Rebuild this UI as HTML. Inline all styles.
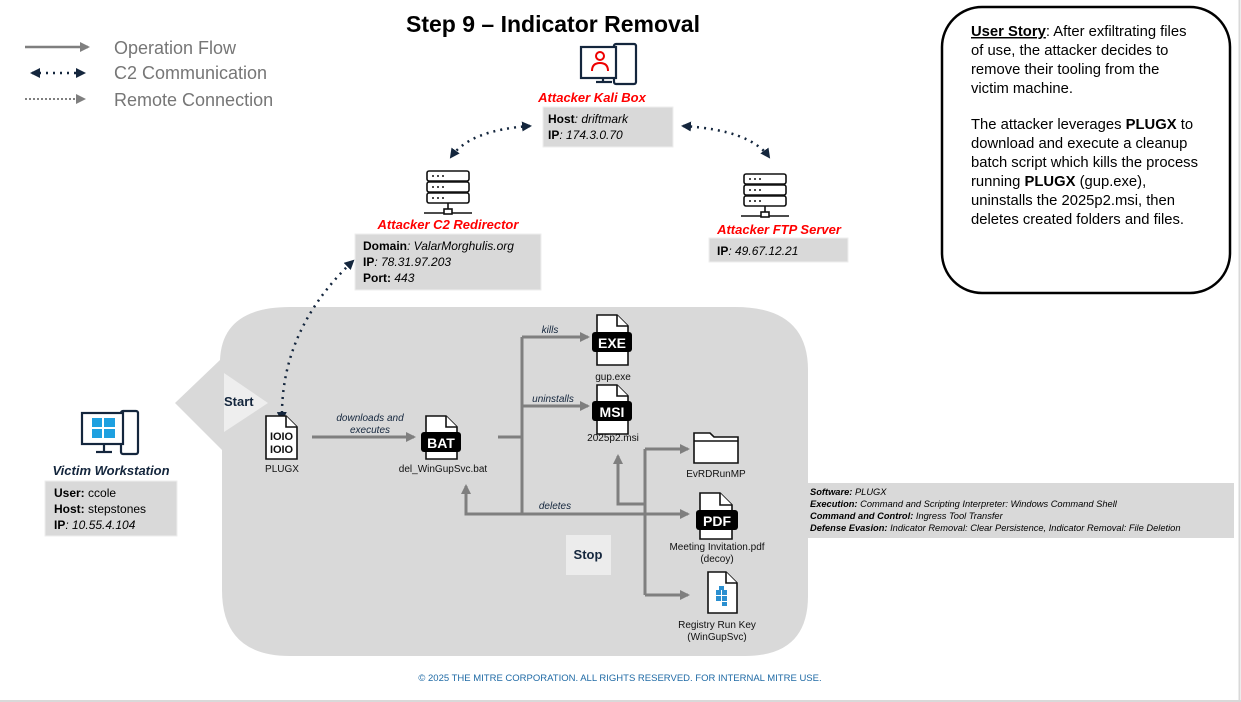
<!DOCTYPE html>
<html><head><meta charset="utf-8"><style>
html,body{margin:0;padding:0;background:#fff;}
svg{display:block;font-family:"Liberation Sans",Arial,sans-serif;}
</style></head><body>
<svg width="1241" height="702" viewBox="0 0 1241 702" xmlns="http://www.w3.org/2000/svg">
<defs>
<marker id="ga" markerWidth="10" markerHeight="10" refX="8" refY="5" orient="auto" markerUnits="userSpaceOnUse"><path d="M0,0 L10,5 L0,10 z" fill="#7f7f7f"/></marker>
<marker id="da" markerWidth="10" markerHeight="10" refX="8" refY="5" orient="auto" markerUnits="userSpaceOnUse"><path d="M0,0 L10,5 L0,10 z" fill="#14263d"/></marker>
<marker id="ds" markerWidth="10" markerHeight="10" refX="2" refY="5" orient="auto" markerUnits="userSpaceOnUse"><path d="M10,0 L0,5 L10,10 z" fill="#14263d"/></marker>
</defs>
<rect x="0" y="0" width="1241" height="702" fill="#fff"/>
<line x1="1239.5" y1="0" x2="1239.5" y2="702" stroke="#d9d9d9" stroke-width="2"/>
<line x1="0" y1="701" x2="1241" y2="701" stroke="#d9d9d9" stroke-width="2"/>

<text x="553" y="32" text-anchor="middle" font-size="23" font-weight="bold">Step 9 – Indicator Removal</text>

<!-- legend -->
<line x1="25" y1="47" x2="88" y2="47" stroke="#7f7f7f" stroke-width="2.5" marker-end="url(#ga)"/>
<line x1="32" y1="73" x2="84" y2="73" stroke="#14263d" stroke-width="2.5" stroke-dasharray="2,5" marker-start="url(#ds)" marker-end="url(#da)"/>
<line x1="25" y1="99" x2="84" y2="99" stroke="#7f7f7f" stroke-width="2" stroke-dasharray="2,2" marker-end="url(#ga)"/>
<g font-size="18" fill="#767676"><text x="114" y="54">Operation Flow</text><text x="114" y="79">C2 Communication</text><text x="114" y="106">Remote Connection</text></g>

<!-- big gray area -->
<path d="M175,403 L220,360 Q222,307 290,307 L735,307 Q808,307 808,370 L808,596 Q808,656 745,656 L290,656 Q222,656 222,590 L222,450 Z" fill="#d9d9d9"/>
<path d="M224,373 L268,403 L224,432 Z" fill="#eeeeee"/>
<text x="224" y="406" font-size="13" font-weight="bold" fill="#14263d">Start</text>

<!-- Kali icon -->
<g fill="none" stroke="#14263d" stroke-width="2.2">
<rect x="614" y="44" width="22" height="40" rx="2"/>
<line x1="596" y1="82" x2="612" y2="82"/><line x1="603" y1="78" x2="603" y2="82"/>
</g>
<rect x="581" y="47" width="35" height="31" fill="#fff" stroke="#14263d" stroke-width="2.2"/>
<circle cx="600" cy="56" r="4" fill="none" stroke="#e00" stroke-width="2"/>
<path d="M592,71 Q592,63 600,63 Q608,63 608,71" fill="none" stroke="#e00" stroke-width="2"/>
<text x="592" y="102" text-anchor="middle" font-size="13" font-weight="bold" font-style="italic" fill="#f00">Attacker Kali Box</text>
<rect x="543" y="107" width="130" height="40" fill="#d9d9d9" stroke="#eee"/>
<text x="548" y="123" font-size="12"><tspan font-weight="bold">Host</tspan><tspan font-style="italic">: driftmark</tspan></text>
<text x="548" y="139" font-size="12"><tspan font-weight="bold">IP</tspan><tspan font-style="italic">: 174.3.0.70</tspan></text>

<!-- servers -->
<g fill="#fff" stroke="#111" stroke-width="1.6">
<rect x="427" y="171" width="42" height="10" rx="2"/><rect x="427" y="182" width="42" height="10" rx="2"/><rect x="427" y="193" width="42" height="10" rx="2"/>
<line x1="448" y1="203" x2="448" y2="210"/><line x1="424" y1="213" x2="472" y2="213"/><rect x="444" y="209" width="8" height="5"/>
</g>
<g fill="#111"><circle cx="433" cy="176" r="1"/><circle cx="438" cy="176" r="1"/><circle cx="443" cy="176" r="1"/><circle cx="433" cy="187" r="1"/><circle cx="438" cy="187" r="1"/><circle cx="443" cy="187" r="1"/><circle cx="433" cy="198" r="1"/><circle cx="438" cy="198" r="1"/><circle cx="443" cy="198" r="1"/></g>
<g transform="translate(317,3)">
<g fill="#fff" stroke="#111" stroke-width="1.6">
<rect x="427" y="171" width="42" height="10" rx="2"/><rect x="427" y="182" width="42" height="10" rx="2"/><rect x="427" y="193" width="42" height="10" rx="2"/>
<line x1="448" y1="203" x2="448" y2="210"/><line x1="424" y1="213" x2="472" y2="213"/><rect x="444" y="209" width="8" height="5"/>
</g>
<g fill="#111"><circle cx="433" cy="176" r="1"/><circle cx="438" cy="176" r="1"/><circle cx="443" cy="176" r="1"/><circle cx="433" cy="187" r="1"/><circle cx="438" cy="187" r="1"/><circle cx="443" cy="187" r="1"/><circle cx="433" cy="198" r="1"/><circle cx="438" cy="198" r="1"/><circle cx="443" cy="198" r="1"/></g>
</g>
<text x="448" y="229" text-anchor="middle" font-size="13" font-weight="bold" font-style="italic" fill="#f00">Attacker C2 Redirector</text>
<rect x="355" y="234" width="186" height="56" fill="#d9d9d9" stroke="#eee"/>
<text x="363" y="250" font-size="12"><tspan font-weight="bold">Domain</tspan><tspan font-style="italic">: ValarMorghulis.org</tspan></text>
<text x="363" y="266" font-size="12"><tspan font-weight="bold">IP</tspan><tspan font-style="italic">: 78.31.97.203</tspan></text>
<text x="363" y="282" font-size="12"><tspan font-weight="bold">Port: </tspan><tspan font-style="italic">443</tspan></text>
<text x="779" y="234" text-anchor="middle" font-size="13" font-weight="bold" font-style="italic" fill="#f00">Attacker FTP Server</text>
<rect x="709" y="238" width="139" height="24" fill="#d9d9d9" stroke="#eee"/>
<text x="717" y="255" font-size="12"><tspan font-weight="bold">IP</tspan><tspan font-style="italic">: 49.67.12.21</tspan></text>

<!-- C2 dotted -->
<g fill="none" stroke="#14263d" stroke-width="2.5" stroke-dasharray="2,5">
<path d="M530,126 Q470,130 451,157" marker-start="url(#ds)" marker-end="url(#da)"/>
<path d="M683,126 Q750,130 769,157" marker-start="url(#ds)" marker-end="url(#da)"/>
<path d="M282,420 Q280,330 353,261" marker-start="url(#ds)" marker-end="url(#da)"/>
</g>

<!-- User story -->
<rect x="942" y="7" width="288" height="286" rx="40" fill="#fff" stroke="#000" stroke-width="2.5"/>
<g font-size="14.8" fill="#000">
<text x="971" y="36"><tspan font-weight="bold" text-decoration="underline">User Story</tspan>: After exfiltrating files</text>
<text x="971" y="55">of use, the attacker decides to</text>
<text x="971" y="74">remove their tooling from the</text>
<text x="971" y="93">victim machine.</text>
<text x="971" y="129">The attacker leverages <tspan font-weight="bold">PLUGX</tspan> to</text>
<text x="971" y="148">download and execute a cleanup</text>
<text x="971" y="167">batch script which kills the process</text>
<text x="971" y="186">running <tspan font-weight="bold">PLUGX</tspan> (gup.exe),</text>
<text x="971" y="205">uninstalls the 2025p2.msi, then</text>
<text x="971" y="224">deletes created folders and files.</text>
</g>

<!-- Victim -->
<g fill="none" stroke="#14263d" stroke-width="2.2">
<rect x="121" y="411" width="17" height="43" rx="2"/>
<line x1="96" y1="452" x2="112" y2="452"/><line x1="104" y1="444" x2="104" y2="452"/>
</g>
<rect x="82" y="413" width="41" height="31" fill="#fff" stroke="#14263d" stroke-width="2.2"/>
<g fill="#1ea0e0"><rect x="92" y="418" width="10" height="9"/><rect x="104" y="418" width="11" height="9"/><rect x="92" y="429" width="10" height="9"/><rect x="104" y="429" width="11" height="9"/></g>
<text x="111" y="475" text-anchor="middle" font-size="13" font-weight="bold" font-style="italic" fill="#14263d">Victim Workstation</text>
<rect x="45" y="481" width="132" height="55" fill="#d9d9d9" stroke="#eee"/>
<text x="54" y="497" font-size="12"><tspan font-weight="bold">User: </tspan>ccole</text>
<text x="54" y="513" font-size="12"><tspan font-weight="bold">Host: </tspan>stepstones</text>
<text x="54" y="529" font-size="12"><tspan font-weight="bold">IP</tspan><tspan font-style="italic">: 10.55.4.104</tspan></text>

<!-- flow lines -->
<g fill="none" stroke="#7f7f7f" stroke-width="3">
<line x1="312" y1="437" x2="414" y2="437" marker-end="url(#ga)"/>
<polyline points="498,437 522,437"/>
<line x1="522" y1="337" x2="522" y2="514"/>
<line x1="522" y1="337" x2="588" y2="337" marker-end="url(#ga)"/>
<line x1="522" y1="406" x2="588" y2="406" marker-end="url(#ga)"/>
<polyline points="645,514 466,514 466,486" marker-end="url(#ga)"/>
<line x1="522" y1="514" x2="688" y2="514" marker-end="url(#ga)"/>
<line x1="645" y1="449" x2="645" y2="595"/>
<line x1="645" y1="449" x2="688" y2="449" marker-end="url(#ga)"/>
<line x1="645" y1="595" x2="688" y2="595" marker-end="url(#ga)"/>
<polyline points="645,504 618,504 618,456" marker-end="url(#ga)"/>
</g>
<g font-size="10" font-style="italic" fill="#14263d" text-anchor="middle">
<text x="370" y="421">downloads and</text><text x="370" y="433">executes</text>
<text x="550" y="333">kills</text><text x="553" y="402">uninstalls</text><text x="555" y="509">deletes</text>
</g>

<!-- files -->
<g fill="#fff" stroke="#111" stroke-width="1.6">
<path d="M266,416 L286,416 L297,427 L297,459 L266,459 Z"/><path d="M286,416 L286,427 L297,427"/>
<path d="M426,416 L446,416 L457,427 L457,459 L426,459 Z"/><path d="M446,416 L446,427 L457,427"/>
<path d="M597,315 L617,315 L628,326 L628,365 L597,365 Z"/><path d="M617,315 L617,326 L628,326"/>
<path d="M597,385 L617,385 L628,396 L628,434 L597,434 Z"/><path d="M617,385 L617,396 L628,396"/>
<path d="M700,493 L720,493 L732,505 L732,539 L700,539 Z"/><path d="M720,493 L720,505 L732,505"/>
<path d="M708,572 L726,572 L737,583 L737,613 L708,613 Z"/><path d="M726,572 L726,583 L737,583"/>
<path d="M694,433 L710,433 L714,437 L738,437 L738,463 L694,463 Z"/><line x1="694" y1="441" x2="738" y2="441"/>
</g>
<g font-weight="bold" font-size="11" fill="#111"><text x="270" y="440" textLength="23">IOIO</text><text x="270" y="453" textLength="23">IOIO</text></g>
<g fill="#000"><rect x="421" y="432" width="40" height="20" rx="3"/><rect x="592" y="332" width="40" height="20" rx="3"/><rect x="592" y="401" width="40" height="20" rx="3"/><rect x="696" y="510" width="42" height="20" rx="3"/></g>
<g fill="#fff" font-weight="bold" font-size="14" text-anchor="middle"><text x="441" y="448">BAT</text><text x="612" y="348">EXE</text><text x="612" y="417">MSI</text><text x="717" y="526">PDF</text></g>
<g fill="#2a8fd0"><rect x="716" y="590" width="5" height="5"/><rect x="722" y="590" width="5" height="5"/><rect x="716" y="596" width="5" height="5"/><rect x="722" y="596" width="5" height="5"/><rect x="719" y="586" width="5" height="4"/><rect x="722" y="602" width="5" height="4"/></g>
<g font-size="10" fill="#111" text-anchor="middle">
<text x="282" y="472">PLUGX</text><text x="443" y="472">del_WinGupSvc.bat</text>
<text x="613" y="380">gup.exe</text><text x="613" y="441">2025p2.msi</text><text x="716" y="477">EvRDRunMP</text>
<text x="717" y="550">Meeting Invitation.pdf</text><text x="717" y="562">(decoy)</text>
<text x="717" y="628">Registry Run Key</text><text x="717" y="640">(WinGupSvc)</text>
</g>
<rect x="566" y="535" width="45" height="40" fill="#ececec"/>
<text x="588" y="559" text-anchor="middle" font-size="13" font-weight="bold" fill="#14263d">Stop</text>

<!-- techniques -->
<rect x="801" y="483" width="433" height="55" fill="#d9d9d9"/>
<g font-size="9.3" font-style="italic" fill="#000">
<text x="810" y="495"><tspan font-weight="bold">Software:</tspan> PLUGX</text>
<text x="810" y="507"><tspan font-weight="bold">Execution:</tspan> Command and Scripting Interpreter: Windows Command Shell</text>
<text x="810" y="519"><tspan font-weight="bold">Command and Control:</tspan> Ingress Tool Transfer</text>
<text x="810" y="531"><tspan font-weight="bold">Defense Evasion:</tspan> Indicator Removal: Clear Persistence, Indicator Removal: File Deletion</text>
</g>

<text x="620" y="681" text-anchor="middle" font-size="9.5" fill="#1f6aa5">© 2025 THE MITRE CORPORATION. ALL RIGHTS RESERVED. FOR INTERNAL MITRE USE.</text>
</svg>
</body></html>
